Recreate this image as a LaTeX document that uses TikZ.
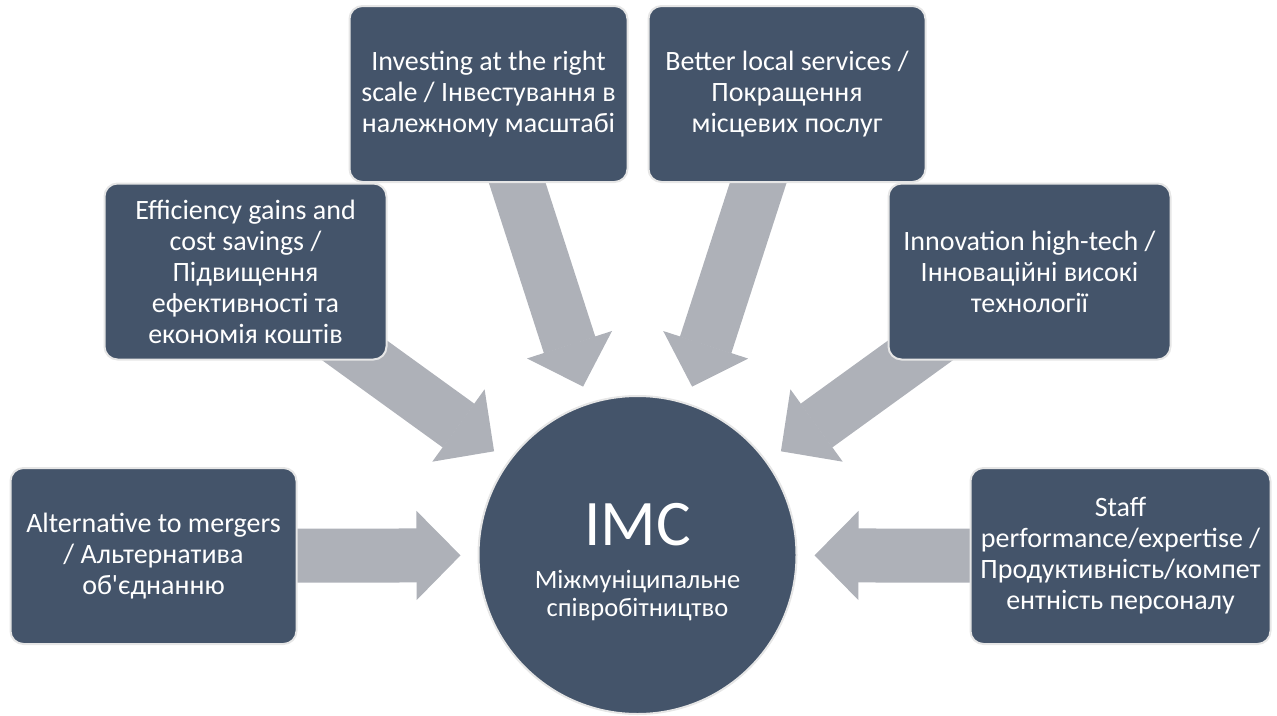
\documentclass[tikz,border=0pt]{standalone}
\usepackage{fontspec}
\setmainfont{Carlito}
\usetikzlibrary{arrows.meta,backgrounds,calc}

\definecolor{slateblue}{RGB}{68,84,106}
\definecolor{paleedge}{RGB}{230,230,230}
\definecolor{arrowgrey}{RGB}{174,177,184}

\tikzset{
  idea/.style={rectangle,rounded corners=13pt,draw=paleedge,line width=2pt,fill=slateblue,
    text=white,align=center,inner sep=0pt,font=\fontsize{28}{31}\selectfont},
  hub/.style={circle,draw=paleedge,line width=2pt,fill=slateblue,text=white,
    align=center,minimum size=318pt,inner sep=0pt,font=\fontsize{26.5}{28}\selectfont},
  bigarrow/.style={color=arrowgrey,line width=54pt,shorten >=17pt,
    -{Triangle[width=89pt,length=44pt,line width=1.5pt,fill=arrowgrey]}}
}

\begin{document}
\begin{tikzpicture}[x=1pt,y=-1pt]
\useasboundingbox (0,0) rectangle (1277,715);

\node[hub] (imc) at (637.5,555) {{\fontsize{65}{65}\selectfont\rule{0pt}{56pt}IMC}\\[15pt]
  Міжмуніципальне\\співробітництво};

\node[idea,minimum width=286pt,minimum height=176pt] (alt) at (153.5,556)
  {Alternative to mergers\\/ Альтернатива\\об\textquotesingle єднанню};
\node[idea,minimum width=282pt,minimum height=176pt] (eff) at (245.5,271.5)
  {Efficiency gains and\\cost savings /\\Підвищення\\ефективності та\\економія коштів};
\node[idea,minimum width=278pt,minimum height=176pt] (inv) at (488.5,94)
  {Investing at the right\\scale / Інвестування в\\належному масштабі};
\node[idea,minimum width=277pt,minimum height=176pt] (bet) at (787,94)
  {Better local services /\\Покращення\\місцевих послуг};
\node[idea,minimum width=282pt,minimum height=176pt] (inn) at (1029.5,271.5)
  {Innovation high-tech /\\Інноваційні високі\\технології};
\node[idea,minimum width=300pt,minimum height=176pt] (sta) at (1120.5,556)
  {Staff\\performance/expertise /\\Продуктивність/компет\\ентність персоналу};

\begin{scope}[on background layer]
\path[bigarrow]
  (alt.center) edge (imc)
  (eff.center) edge (imc)
  (inv.center) edge (imc)
  (bet.center) edge (imc)
  (inn.center) edge (imc)
  (sta.center) edge (imc);
\end{scope}
\end{tikzpicture}
\end{document}
